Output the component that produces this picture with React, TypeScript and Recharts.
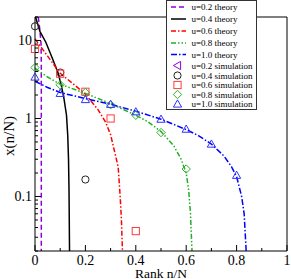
import React from 'react';
import { ComposedChart, Line, Scatter, XAxis, YAxis } from 'recharts';

// ---------- data ----------
const rankTicks = [0, 0.1, 0.2, 0.3, 0.4, 0.5, 0.6, 0.7, 0.8, 0.9, 1];
const rankLabelTicks = [0, 0.2, 0.4, 0.6, 0.8, 1];
const yTicks = [
  0.02, 0.03, 0.04, 0.05, 0.06, 0.07, 0.08, 0.09, 0.1,
  0.2, 0.3, 0.4, 0.5, 0.6, 0.7, 0.8, 0.9, 1,
  2, 3, 4, 5, 6, 7, 8, 9, 10, 20,
];
const yLabelTicks = [0.1, 1, 10];

const theoryU02 = [
  { r: 0.013, x: 20 }, { r: 0.02, x: 13 }, { r: 0.024, x: 9 },
  { r: 0.025, x: 5 }, { r: 0.025, x: 0.02 },
];
const theoryU04 = [
  { r: 0.002, x: 20 }, { r: 0.02, x: 13 }, { r: 0.043, x: 9.5 },
  { r: 0.07, x: 5.8 }, { r: 0.092, x: 3.8 }, { r: 0.105, x: 2.6 },
  { r: 0.115, x: 1.8 }, { r: 0.125, x: 1.1 }, { r: 0.13, x: 0.6 },
  { r: 0.133, x: 0.3 }, { r: 0.135, x: 0.12 }, { r: 0.136, x: 0.05 },
  { r: 0.137, x: 0.02 },
];
const theoryU06 = [
  { r: 0, x: 10.5 }, { r: 0.05, x: 6.3 }, { r: 0.1, x: 3.8 },
  { r: 0.15, x: 2.8 }, { r: 0.2, x: 2.05 }, { r: 0.25, x: 1.3 },
  { r: 0.28, x: 0.9 }, { r: 0.3, x: 0.62 }, { r: 0.32, x: 0.33 },
  { r: 0.33, x: 0.24 }, { r: 0.338, x: 0.1 }, { r: 0.343, x: 0.05 },
  { r: 0.347, x: 0.02 },
];
const theoryU08 = [
  { r: 0, x: 4.4 }, { r: 0.05, x: 3.4 }, { r: 0.1, x: 2.75 },
  { r: 0.2, x: 2.1 }, { r: 0.3, x: 1.55 }, { r: 0.4, x: 1.1 },
  { r: 0.45, x: 0.9 }, { r: 0.5, x: 0.68 }, { r: 0.55, x: 0.45 },
  { r: 0.58, x: 0.3 }, { r: 0.6, x: 0.2 }, { r: 0.61, x: 0.12 },
  { r: 0.617, x: 0.06 }, { r: 0.623, x: 0.02 },
];
const theoryU10 = [
  { r: 0, x: 3.0 }, { r: 0.05, x: 2.5 }, { r: 0.1, x: 2.15 },
  { r: 0.2, x: 1.8 }, { r: 0.3, x: 1.52 }, { r: 0.4, x: 1.24 },
  { r: 0.5, x: 0.98 }, { r: 0.6, x: 0.72 }, { r: 0.65, x: 0.6 },
  { r: 0.7, x: 0.47 }, { r: 0.75, x: 0.33 }, { r: 0.78, x: 0.24 },
  { r: 0.8, x: 0.18 }, { r: 0.82, x: 0.1 }, { r: 0.83, x: 0.06 },
  { r: 0.838, x: 0.02 },
];

const simU02: { r: number; x: number }[] = [];
const simU04 = [
  { r: 0, x: 15.2 }, { r: 0.1, x: 3.88 }, { r: 0.2, x: 0.165 },
];
const simU06 = [
  { r: 0, x: 7.8 }, { r: 0.1, x: 3.75 }, { r: 0.2, x: 2.2 },
  { r: 0.3, x: 1.0 }, { r: 0.4, x: 0.036 },
];
const simU08 = [
  { r: 0, x: 4.5 }, { r: 0.1, x: 2.7 }, { r: 0.2, x: 2.15 },
  { r: 0.3, x: 1.5 }, { r: 0.4, x: 1.1 }, { r: 0.5, x: 0.66 },
  { r: 0.6, x: 0.225 },
];
const simU10 = [
  { r: 0, x: 3.4 }, { r: 0.1, x: 2.1 }, { r: 0.2, x: 1.75 },
  { r: 0.3, x: 1.52 }, { r: 0.4, x: 1.22 }, { r: 0.5, x: 0.98 },
  { r: 0.6, x: 0.73 }, { r: 0.7, x: 0.47 }, { r: 0.8, x: 0.187 },
];

const theoryNames = ['u=0.2 theory', 'u=0.4 theory', 'u=0.6 theory', 'u=0.8 theory', 'u=1.0 theory'];
const simNames = ['u=0.2 simulation', 'u=0.4 simulation', 'u=0.6 simulation', 'u=0.8 simulation', 'u=1.0 simulation'];
const xTitle = 'Rank n/N';
const yTitle = 'x(n/N)';

// ---------- styles ----------
const FONT = '"Liberation Serif", "Times New Roman", serif';
const VIOLET = '#9400d3';
const RED = '#ff0000';
const GREEN = '#22b022';
const BLUE = '#0000ff';
const colors = [VIOLET, '#000000', RED, GREEN, BLUE];
const simColors = [VIOLET, '#222222', '#ff3b3b', '#2cb52c', '#3030ff'];
const dashes = ['5 3', undefined, '5 2 1.5 2', '5 2 1.5 2 1.5 2', '6 2 1.5 2'];
const theoryData = [theoryU02, theoryU04, theoryU06, theoryU08, theoryU10];
const simData = [simU02, simU04, simU06, simU08, simU10];
const shapes = ['ltri', 'circle', 'square', 'diamond', 'tri'];

function Marker({ kind, cx, cy, color }: { kind: string; cx: number; cy: number; color: string }) {
  const s = 3.6;
  const common = { fill: 'none', stroke: color, strokeWidth: 1 };
  if (kind === 'circle') return <circle cx={cx} cy={cy} r={s} {...common} />;
  if (kind === 'square') return <rect x={cx - s} y={cy - s} width={2 * s} height={2 * s} {...common} />;
  if (kind === 'diamond')
    return <polygon points={`${cx},${cy - s - 0.6} ${cx + s + 0.6},${cy} ${cx},${cy + s + 0.6} ${cx - s - 0.6},${cy}`} {...common} />;
  if (kind === 'tri')
    return <polygon points={`${cx},${cy - s - 0.5} ${cx + s + 0.5},${cy + s - 0.5} ${cx - s - 0.5},${cy + s - 0.5}`} {...common} />;
  return <polygon points={`${cx - s - 0.5},${cy} ${cx + s - 0.5},${cy - s - 0.5} ${cx + s - 0.5},${cy + s + 0.5}`} {...common} />;
}

const makeShape = (kind: string, color: string) => (props: any) => {
  if (props.cx == null || props.cy == null) return <g />;
  return <Marker kind={kind} cx={props.cx} cy={props.cy} color={color} />;
};

const fmt = (v: number) => (v === 0 ? '0' : v === 1 ? '1' : String(v));

const LeftTick = (props: any) => {
  const { x, y, payload } = props;
  const major = yLabelTicks.includes(payload.value);
  return (
    <g>
      <line x1={x} y1={y} x2={x + (major ? 6 : 3)} y2={y} stroke="#000" strokeWidth={1} />
      {major && (
        <text x={x - 3} y={y + 5} textAnchor="end" fontFamily={FONT} fontSize={14} fill="#000">
          {fmt(payload.value)}
        </text>
      )}
    </g>
  );
};
const RightTick = (props: any) => {
  const { x, y, payload } = props;
  const major = yLabelTicks.includes(payload.value);
  return <line x1={x} y1={y} x2={x - (major ? 6 : 3)} y2={y} stroke="#000" strokeWidth={1} />;
};
const BottomTick = (props: any) => {
  const { x, y, payload } = props;
  const major = rankLabelTicks.includes(payload.value);
  return (
    <g>
      <line x1={x} y1={y} x2={x} y2={y - (major ? 6 : 3)} stroke="#000" strokeWidth={1} />
      {major && (
        <text x={x} y={y + 13.5} textAnchor="middle" fontFamily={FONT} fontSize={14} fill="#000">
          {fmt(payload.value)}
        </text>
      )}
    </g>
  );
};
const TopTick = (props: any) => {
  const { x, y, payload } = props;
  const major = rankLabelTicks.includes(payload.value);
  return <line x1={x} y1={y} x2={x} y2={y + (major ? 6 : 3)} stroke="#000" strokeWidth={1} />;
};

const XTitle = (props: any) => {
  const vb = props.viewBox || {};
  const cx = (vb.x ?? 35) + (vb.width ?? 252) / 2;
  return (
    <text x={cx} y={277.5} textAnchor="middle" fontFamily={FONT} fontSize={13.5} fill="#000">
      {xTitle}
    </text>
  );
};
const YTitle = (props: any) => {
  const vb = props.viewBox || {};
  const cy = (vb.y ?? 17) + (vb.height ?? 234) / 2 + 2;
  return (
    <text x={14} y={cy} transform={`rotate(-90 14 ${cy})`} textAnchor="middle" fontFamily={FONT} fontSize={15} fill="#000">
      {yTitle}
    </text>
  );
};

function LegendBox() {
  const theoryRows = [7, 19, 31, 43, 54.5];
  const simRows = [65.5, 75.5, 85, 94.5, 104];
  return (
    <svg width={92} height={111} style={{ position: 'absolute', left: 166, top: 0 }}>
      <rect x={0.5} y={0.5} width={90} height={109} fill="#fff" stroke="#333" strokeWidth={1} />
      {theoryNames.map((n, i) => (
        <g key={n}>
          <line x1={5} y1={theoryRows[i]} x2={20} y2={theoryRows[i]} stroke={colors[i]}
            strokeWidth={1.5} strokeDasharray={dashes[i]} />
          <text x={25.5} y={theoryRows[i] + 3.2} fontFamily={FONT} fontSize={9} fill="#000">{n}</text>
        </g>
      ))}
      {simNames.map((n, i) => (
        <g key={n}>
          <Marker kind={shapes[i]} cx={11.5} cy={simRows[i]} color={simColors[i]} />
          <text x={25.5} y={simRows[i] + 3.2} fontFamily={FONT} fontSize={9} fill="#000">{n}</text>
        </g>
      ))}
    </svg>
  );
}

export default function App() {
  return (
    <div style={{ position: 'relative', width: 291, height: 279, background: '#fff' }}>
      <style>{'body{margin:0;background:#fff}'}</style>
      <ComposedChart width={291} height={279} margin={{ top: 0, right: 0, bottom: 0, left: 0 }}>
        <XAxis
          dataKey="r" type="number" domain={[0, 1]} ticks={rankTicks} interval={0}
          height={28} tickSize={0} tickMargin={0} tick={<BottomTick />}
          axisLine={{ stroke: '#000', strokeWidth: 1 }} tickLine={false}
          label={<XTitle />}
        />
        <XAxis
          xAxisId="top" orientation="top" dataKey="r" type="number" domain={[0, 1]} ticks={rankTicks}
          interval={0} height={17} tickSize={0} tickMargin={0} tick={<TopTick />}
          axisLine={{ stroke: '#000', strokeWidth: 1 }} tickLine={false}
        />
        <YAxis
          dataKey="x" type="number" scale="log" domain={[0.02, 20]} ticks={yTicks} interval={0}
          width={35} tickSize={0} tickMargin={0} tick={<LeftTick />}
          axisLine={{ stroke: '#000', strokeWidth: 1 }} tickLine={false}
          label={<YTitle />}
        />
        <YAxis
          yAxisId="right" orientation="right" type="number" scale="log" domain={[0.02, 20]} ticks={yTicks}
          interval={0} width={4} tickSize={0} tickMargin={0} tick={<RightTick />}
          axisLine={{ stroke: '#000', strokeWidth: 1 }} tickLine={false}
        />
        {theoryData.map((d, i) => (
          <Line
            key={theoryNames[i]} name={theoryNames[i]} data={d} dataKey="x" type="linear"
            stroke={colors[i]} strokeWidth={1.5} strokeDasharray={dashes[i]} dot={false}
            activeDot={false} isAnimationActive={false}
          />
        ))}
        {simData.map((d, i) => (
          <Scatter
            key={simNames[i]} name={simNames[i]} data={d} dataKey="x"
            shape={makeShape(shapes[i], simColors[i])} isAnimationActive={false}
          />
        ))}
      </ComposedChart>
      <LegendBox />
    </div>
  );
}
